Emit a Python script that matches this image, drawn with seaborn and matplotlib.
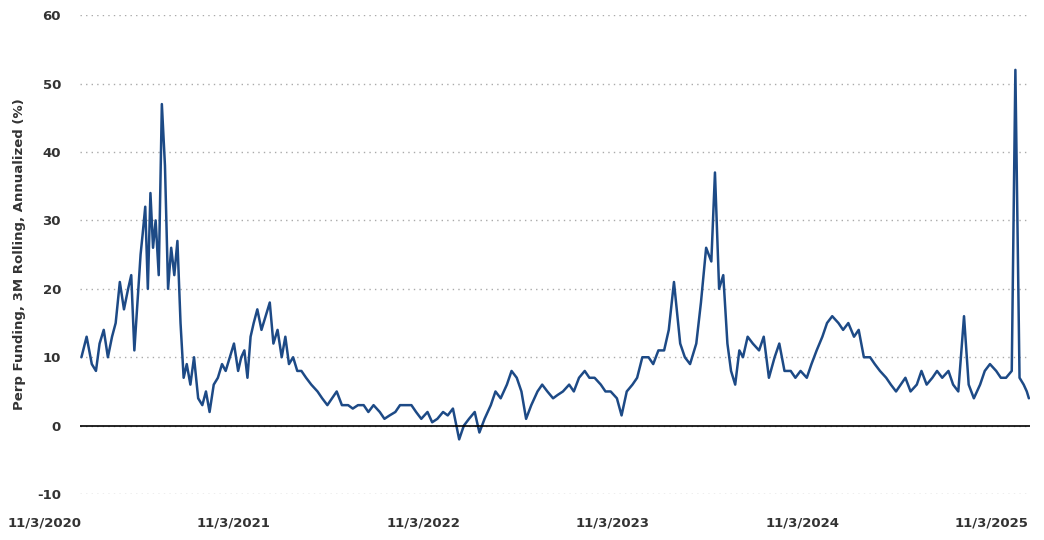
import pandas as pd
import numpy as np
import seaborn as sns
import matplotlib.pyplot as plt

# datos (aprox.)
fechas = [
    "2020-11-03", "2020-11-13", "2020-11-23",
    "2020-12-01", "2020-12-08", "2020-12-16", "2020-12-24",
    "2021-01-01", "2021-01-08", "2021-01-16", "2021-01-24",
    "2021-02-01", "2021-02-07", "2021-02-13", "2021-02-19", "2021-02-25",
    "2021-03-01", "2021-03-06", "2021-03-11", "2021-03-16", "2021-03-21", "2021-03-26",
    "2021-04-01", "2021-04-07", "2021-04-13", "2021-04-19", "2021-04-25",
    "2021-05-01", "2021-05-07", "2021-05-13", "2021-05-19", "2021-05-25",
    "2021-06-01", "2021-06-08", "2021-06-16", "2021-06-24",
    "2021-07-01", "2021-07-08", "2021-07-16", "2021-07-24",
    "2021-08-01", "2021-08-08", "2021-08-16", "2021-08-24",
    "2021-09-01", "2021-09-07", "2021-09-13", "2021-09-19", "2021-09-25",
    "2021-10-01", "2021-10-08", "2021-10-16", "2021-10-24",
    "2021-11-01", "2021-11-08", "2021-11-16", "2021-11-24",
    "2021-12-01", "2021-12-08", "2021-12-16", "2021-12-24",
    "2022-01-01", "2022-01-10", "2022-01-20",
    "2022-02-01", "2022-02-10", "2022-02-20",
    "2022-03-01", "2022-03-10", "2022-03-20",
    "2022-04-01", "2022-04-10", "2022-04-20",
    "2022-05-01", "2022-05-10", "2022-05-20",
    "2022-06-01", "2022-06-10", "2022-06-20",
    "2022-07-01", "2022-07-10", "2022-07-20",
    "2022-08-01", "2022-08-10", "2022-08-20",
    "2022-09-01", "2022-09-10", "2022-09-20",
    "2022-10-01", "2022-10-10", "2022-10-20",
    "2022-11-01", "2022-11-10", "2022-11-20",
    "2022-12-01", "2022-12-10", "2022-12-20",
    "2023-01-01", "2023-01-10", "2023-01-20",
    "2023-02-01", "2023-02-10", "2023-02-20",
    "2023-03-01", "2023-03-10", "2023-03-20",
    "2023-04-01", "2023-04-10", "2023-04-20",
    "2023-05-01", "2023-05-10", "2023-05-20",
    "2023-06-01", "2023-06-10", "2023-06-20",
    "2023-07-01", "2023-07-10", "2023-07-20",
    "2023-08-01", "2023-08-10", "2023-08-20",
    "2023-09-01", "2023-09-10", "2023-09-20",
    "2023-10-01", "2023-10-10", "2023-10-20",
    "2023-11-01", "2023-11-10", "2023-11-20",
    "2023-12-01", "2023-12-10", "2023-12-20",
    "2024-01-01", "2024-01-10", "2024-01-20",
    "2024-02-01", "2024-02-10", "2024-02-20",
    "2024-03-01", "2024-03-08", "2024-03-16", "2024-03-24",
    "2024-04-01", "2024-04-08", "2024-04-16", "2024-04-24",
    "2024-05-01", "2024-05-10", "2024-05-20",
    "2024-06-01", "2024-06-10", "2024-06-20",
    "2024-07-01", "2024-07-10", "2024-07-20",
    "2024-08-01", "2024-08-10", "2024-08-20",
    "2024-09-01", "2024-09-10", "2024-09-20",
    "2024-10-01", "2024-10-10", "2024-10-20",
    "2024-11-01", "2024-11-10", "2024-11-20",
    "2024-12-01", "2024-12-10", "2024-12-20",
    "2025-01-01", "2025-01-10", "2025-01-20",
    "2025-02-01", "2025-02-10", "2025-02-20",
    "2025-03-01", "2025-03-10", "2025-03-20",
    "2025-04-01", "2025-04-10", "2025-04-20",
    "2025-05-01", "2025-05-10", "2025-05-20",
    "2025-06-01", "2025-06-10", "2025-06-20",
    "2025-07-01", "2025-07-10", "2025-07-20",
    "2025-08-01", "2025-08-10", "2025-08-20",
    "2025-09-01", "2025-09-10", "2025-09-20",
    "2025-10-01", "2025-10-08", "2025-10-16", "2025-10-24",
    "2025-10-30", "2025-11-03",
]
funding = [
    10, 13, 9,
    8, 12, 14, 10,
    13, 15, 21, 17,
    20, 22, 11, 18, 25,
    28, 32, 20, 34, 26, 30,
    22, 47, 38, 20, 26,
    22, 27, 15, 7, 9,
    6, 10, 4, 3,
    5, 2, 6, 7,
    9, 8, 10, 12,
    8, 10, 11, 7, 13,
    15, 17, 14, 16,
    18, 12, 14, 10,
    13, 9, 10, 8,
    8, 7, 6,
    5, 4, 3,
    4, 5, 3,
    3, 2.5, 3,
    3, 2, 3,
    2, 1, 1.5,
    2, 3, 3,
    3, 2, 1,
    2, 0.5, 1,
    2, 1.5, 2.5,
    -2, 0, 1,
    2, -1, 1,
    3, 5, 4,
    6, 8, 7,
    5, 1, 3,
    5, 6, 5,
    4, 4.5, 5,
    6, 5, 7,
    8, 7, 7,
    6, 5, 5,
    4, 1.5, 5,
    6, 7, 10,
    10, 9, 11,
    11, 14, 21,
    12, 10, 9,
    12, 18, 26,
    24, 37, 20, 22,
    12, 8, 6, 11,
    10, 13, 12,
    11, 13, 7,
    10, 12, 8,
    8, 7, 8,
    7, 9, 11,
    13, 15, 16,
    15, 14, 15,
    13, 14, 10,
    10, 9, 8,
    7, 6, 5,
    6, 7, 5,
    6, 8, 6,
    7, 8, 7,
    8, 6, 5,
    16, 6, 4,
    6, 8, 9,
    8, 7, 7,
    8, 52, 7, 6,
    5, 4,
]
tick_fechas = ["2020-11-03", "2021-11-03", "2022-11-03",
               "2023-11-03", "2024-11-03", "2025-11-03"]
tick_etiq = ["11/3/2020", "11/3/2021", "11/3/2022",
             "11/3/2023", "11/3/2024", "11/3/2025"]

df = pd.DataFrame({"fecha": pd.to_datetime(fechas), "funding": funding})

sns.set_style("white")
plt.rcParams["axes.unicode_minus"] = False
fig = plt.figure(figsize=(10.44, 5.4), dpi=100)
ax = fig.add_axes([0.077, 0.085, 0.91, 0.887])

sns.lineplot(x="fecha", y="funding", data=df, ax=ax, color="#1d4a86", linewidth=1.8)

ax.set_ylim(-10, 60)
ax.set_yticks(range(-10, 61, 10))
ax.yaxis.grid(True, linestyle=(0, (1, 3)), color="#aaaaaa", linewidth=1)
ax.axhline(0, color="black", linewidth=1.2)
ax.set_xlim(pd.Timestamp("2020-11-01"), pd.Timestamp("2025-11-06"))
ax.set_xticks(pd.to_datetime(tick_fechas))
ax.set_xticklabels(tick_etiq, ha="right")
for s in ax.spines.values():
    s.set_visible(False)
ax.tick_params(axis="y", length=0, labelsize=9.5, colors="#333333", pad=14)
ax.tick_params(axis="x", length=0, labelsize=9.5, colors="#333333", pad=16)
for lab in ax.get_xticklabels() + ax.get_yticklabels():
    lab.set_fontweight("bold")
ax.set_xlabel("")
ax.set_ylabel("Perp Funding, 3M Rolling, Annualized (%)", fontsize=9.5,
              fontweight="bold", color="#333333", labelpad=8)

plt.savefig("out.png")
